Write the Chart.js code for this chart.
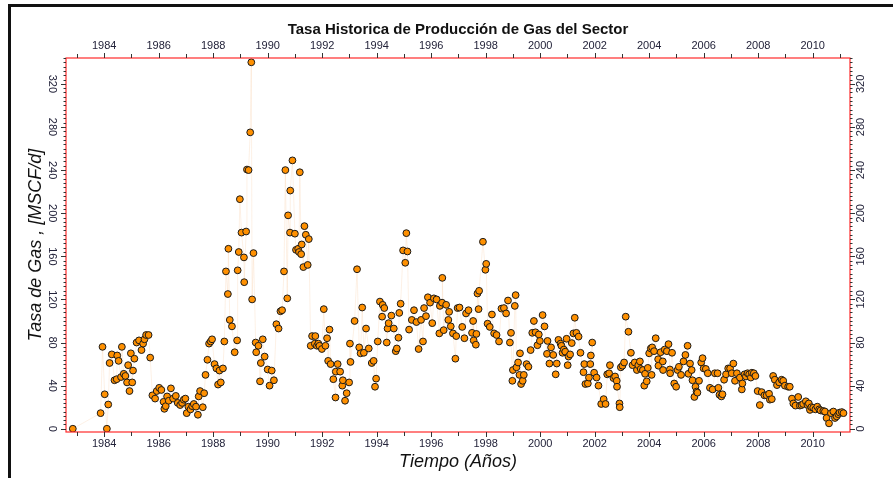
<!DOCTYPE html>
<html>
<head>
<meta charset="utf-8">
<script src="https://cdn.jsdelivr.net/npm/chart.js@4.4.1/dist/chart.umd.min.js"></script>
<style>
  html, body { margin: 0; padding: 0; background: #fff; }
  #wrap { width: 893px; height: 478px; position: relative; }
</style>
</head>
<body>
<div id="wrap"><canvas id="gasChart" width="893" height="478"></canvas></div>
<script>
// time (decimal years) and gas rate
const years = [
  1982.85, 1983.87, 1983.94, 1984.02, 1984.10, 1984.15, 1984.20, 1984.28, 1984.38, 1984.46,
  1984.48, 1984.53, 1984.62, 1984.65, 1984.72, 1984.78, 1984.84, 1984.88, 1984.93, 1984.98,
  1985.03, 1985.06, 1985.11, 1985.19, 1985.28, 1985.37, 1985.43, 1985.48, 1985.54, 1985.63,
  1985.69, 1985.77, 1985.87, 1985.93, 1986.02, 1986.10, 1986.18, 1986.21, 1986.26, 1986.31,
  1986.37, 1986.45, 1986.53, 1986.63, 1986.70, 1986.79, 1986.86, 1986.92, 1986.98, 1987.03,
  1987.09, 1987.17, 1987.23, 1987.29, 1987.37, 1987.44, 1987.47, 1987.52, 1987.62, 1987.67,
  1987.72, 1987.79, 1987.85, 1987.91, 1987.96, 1988.05, 1988.12, 1988.18, 1988.23, 1988.28,
  1988.36, 1988.41, 1988.47, 1988.54, 1988.56, 1988.61, 1988.69, 1988.79, 1988.88, 1988.90,
  1988.94, 1988.98, 1989.04, 1989.13, 1989.14, 1989.21, 1989.24, 1989.30, 1989.36, 1989.40,
  1989.43, 1989.48, 1989.56, 1989.58, 1989.66, 1989.72, 1989.75, 1989.82, 1989.89, 1990.00,
  1990.07, 1990.15, 1990.23, 1990.32, 1990.40, 1990.47, 1990.53, 1990.60, 1990.65, 1990.72,
  1990.75, 1990.82, 1990.83, 1990.91, 1991.00, 1991.04, 1991.12, 1991.15, 1991.18, 1991.23,
  1991.25, 1991.31, 1991.35, 1991.40, 1991.47, 1991.51, 1991.58, 1991.63, 1991.73, 1991.75,
  1991.81, 1991.86, 1991.90, 1991.99, 1992.06, 1992.12, 1992.18, 1992.22, 1992.27, 1992.31,
  1992.41, 1992.49, 1992.50, 1992.57, 1992.66, 1992.74, 1992.76, 1992.84, 1992.90, 1992.99,
  1993.02, 1993.04, 1993.19, 1993.28, 1993.36, 1993.41, 1993.47, 1993.53, 1993.61, 1993.71,
  1993.82, 1993.89, 1993.94, 1993.98, 1994.04, 1994.12, 1994.20, 1994.22, 1994.28, 1994.37,
  1994.40, 1994.44, 1994.54, 1994.63, 1994.70, 1994.74, 1994.80, 1994.83, 1994.88, 1994.97,
  1995.05, 1995.09, 1995.13, 1995.19, 1995.29, 1995.37, 1995.46, 1995.54, 1995.63, 1995.70,
  1995.74, 1995.81, 1995.88, 1995.96, 1996.04, 1996.10, 1996.20, 1996.30, 1996.32, 1996.40,
  1996.41, 1996.46, 1996.55, 1996.63, 1996.66, 1996.72, 1996.80, 1996.89, 1996.92, 1996.97,
  1997.04, 1997.14, 1997.22, 1997.28, 1997.37, 1997.50, 1997.54, 1997.56, 1997.64, 1997.66,
  1997.70, 1997.74, 1997.76, 1997.90, 1997.99, 1998.02, 1998.07, 1998.15, 1998.23, 1998.31,
  1998.40, 1998.49, 1998.58, 1998.67, 1998.75, 1998.82, 1998.89, 1998.93, 1998.98, 1999.00,
  1999.07, 1999.10, 1999.13, 1999.19, 1999.24, 1999.26, 1999.30, 1999.36, 1999.40, 1999.50,
  1999.57, 1999.65, 1999.71, 1999.77, 1999.83, 1999.90, 1999.95, 1999.99, 2000.09, 2000.16,
  2000.25, 2000.27, 2000.34, 2000.40, 2000.48, 2000.57, 2000.61, 2000.67, 2000.75, 2000.78,
  2000.82, 2000.87, 2000.92, 2000.97, 2001.01, 2001.04, 2001.10, 2001.16, 2001.22, 2001.27,
  2001.33, 2001.41, 2001.48, 2001.59, 2001.62, 2001.66, 2001.75, 2001.79, 2001.84, 2001.86,
  2001.91, 2001.98, 2002.07, 2002.14, 2002.24, 2002.33, 2002.40, 2002.46, 2002.53, 2002.56,
  2002.69, 2002.75, 2002.81, 2002.82, 2002.91, 2002.92, 2002.96, 2003.02, 2003.08, 2003.14,
  2003.24, 2003.33, 2003.39, 2003.47, 2003.55, 2003.60, 2003.66, 2003.69, 2003.77, 2003.82,
  2003.85, 2003.91, 2003.95, 2004.00, 2004.06, 2004.09, 2004.11, 2004.18, 2004.24, 2004.33,
  2004.34, 2004.42, 2004.50, 2004.51, 2004.57, 2004.65, 2004.71, 2004.76, 2004.77, 2004.84,
  2004.92, 2004.99, 2005.04, 2005.09, 2005.17, 2005.26, 2005.33, 2005.41, 2005.44, 2005.50,
  2005.56, 2005.59, 2005.66, 2005.70, 2005.74, 2005.77, 2005.83, 2005.91, 2005.96, 2006.00,
  2006.08, 2006.15, 2006.23, 2006.33, 2006.41, 2006.51, 2006.54, 2006.58, 2006.65, 2006.69,
  2006.75, 2006.82, 2006.90, 2006.97, 2007.03, 2007.09, 2007.15, 2007.22, 2007.33, 2007.40,
  2007.42, 2007.50, 2007.55, 2007.61, 2007.67, 2007.73, 2007.77, 2007.84, 2007.90, 2007.98,
  2008.06, 2008.13, 2008.23, 2008.31, 2008.40, 2008.43, 2008.50, 2008.55, 2008.61, 2008.69,
  2008.77, 2008.86, 2008.92, 2008.98, 2009.10, 2009.16, 2009.24, 2009.29, 2009.37, 2009.47,
  2009.53, 2009.59, 2009.65, 2009.75, 2009.81, 2009.86, 2009.90, 2009.95, 2010.02, 2010.10,
  2010.17, 2010.24, 2010.29, 2010.39, 2010.45, 2010.51, 2010.60, 2010.67, 2010.76, 2010.82,
  2010.88, 2010.94, 2010.99, 2011.07, 2011.13
];
const gasRate = [
  0, 14.5, 76, 32, 0, 22.5, 61, 69, 45, 46,
  68, 63, 48, 76, 51, 49, 43, 59, 35, 70,
  43, 54, 65, 80, 82, 73, 79, 83, 87, 87,
  66, 31, 28, 35, 38, 36, 25, 18.5, 21, 30,
  26, 37.5, 28, 30.5, 24, 22, 24, 27, 28, 14.5,
  20.5, 18, 21, 23, 20.5, 13, 30, 35, 20, 33,
  50, 64, 79, 81, 83, 60, 56, 41, 54, 43,
  56, 81, 146, 125, 167, 101, 95, 71, 82, 147,
  164, 213, 182, 159, 136, 183, 240.5, 240, 275, 340,
  120, 163, 80, 71, 77, 44, 61, 83, 67, 55,
  40, 54, 45, 97, 93, 109, 110, 146, 240, 121,
  198, 182, 221, 249, 181, 166, 167, 164, 238, 162,
  171, 150, 188, 180, 152, 176, 77, 86, 79, 86,
  77, 79, 77, 74, 111, 77, 84, 63, 92, 60,
  46, 29, 53, 60, 53, 40, 45, 26, 33, 43,
  79, 62, 100, 148, 75.5, 70, 112.5, 70.5, 93, 74.5,
  61, 63, 39, 46.5, 81, 118, 104, 115, 112, 80,
  93, 98, 105, 93, 72, 74.5, 84.5, 107.5, 116, 165.5,
  154, 181.5, 164.5, 92, 101, 110, 99, 74, 101, 81,
  112, 104.5, 122, 117, 98, 121, 120, 88.5, 114, 117,
  140, 91.5, 115, 101, 108.5, 95, 88.5, 65, 86, 112,
  112.5, 94.5, 84, 107, 110, 89, 100, 82, 78, 88,
  125.5, 111, 128, 173.5, 147.5, 153, 97.5, 94.5, 106, 88.5,
  87, 81, 111.5, 112, 107, 119, 80, 89, 44.5, 54.5,
  114, 124, 57, 61.5, 50, 70, 41.5, 44.5, 50, 60,
  57.5, 73, 89, 100, 89.5, 77.5, 87.5, 81.5, 105.5, 95,
  69.5, 81.5, 60.5, 75.5, 68.5, 50.5, 60.5, 82.5, 79, 77,
  70.5, 73.5, 71.5, 83.5, 59, 67, 69, 79.5, 88.5, 103,
  89, 85.5, 70.5, 52.5, 60, 41.5, 42, 47.5, 60, 68,
  80, 52, 47.5, 40, 23, 27.5, 23, 50.5, 51.5, 59,
  47, 48.5, 44.5, 39, 23.5, 20, 57, 58.5, 61.5, 104,
  90, 70.5, 59, 61.5, 54.5, 59, 62.5, 55.5, 54.5, 40,
  51, 44, 56.5, 70, 74.5, 50, 75.5, 72, 84, 64.5,
  58.5, 71, 62.5, 54.5, 73.5, 72, 78.5, 55, 51.5, 70.5,
  42, 39, 54.5, 57.5, 50, 62.5, 68.5, 77, 51, 60.5,
  54.5, 45, 29.5, 39, 34.5, 33.5, 44.5, 61.5, 65.5, 56,
  55.5, 51.5, 38, 36.5, 51.5, 51.5, 38, 31.5, 30, 32,
  45.5, 50.5, 56, 56, 51.5, 60.5, 44.5, 51.5, 47.5, 36.5,
  42, 50.5, 48.5, 51.5, 50.5, 47.5, 52, 51.5, 49, 35,
  22, 34, 31, 31, 32.5, 27, 27.5, 49, 45.5, 40.5,
  43, 45.5, 44.5, 40, 39, 39, 28, 23.5, 21.5, 29.5,
  21.5, 22, 23, 25.5, 22, 23.5, 17.5, 20, 19.5, 18,
  20.5, 18, 17, 16.5, 16, 10, 5, 14.5, 16, 10,
  11.5, 13.5, 15, 15.5, 14.5
];

const yearTicks = [1984, 1986, 1988, 1990, 1992, 1994, 1996, 1998, 2000, 2002, 2004, 2006, 2008, 2010];
const rateTicks = [0, 40, 80, 120, 160, 200, 240, 280, 320];

const points = years.map((t, i) => ({ x: t, y: gasRate[i] }));

const tickFont = { family: "'Liberation Sans', Arial, sans-serif", size: 11 };
const tickColor = '#23233a';

// red box round the plot + the black frame lines of the original figure
const framePlugin = {
  id: 'frame',
  afterDraw(chart) {
    const ctx = chart.ctx;
    const a = chart.chartArea;
    ctx.save();
    ctx.strokeStyle = '#ff2a2a';
    ctx.lineWidth = 1.2;
    ctx.strokeRect(a.left, a.top, a.right - a.left, a.bottom - a.top);

    ctx.strokeStyle = '#111';
    ctx.lineWidth = 3;
    ctx.beginPath();
    ctx.moveTo(8, 5.5); ctx.lineTo(893, 5.5);
    ctx.moveTo(9.5, 4); ctx.lineTo(9.5, 478);
    ctx.stroke();
    ctx.restore();
  }
};

// major / minor tick marks on all four sides
const tickMarkPlugin = {
  id: 'tickMarks',
  afterDraw(chart) {
    const ctx = chart.ctx;
    const a = chart.chartArea;
    const sx = chart.scales.x, sy = chart.scales.y;
    ctx.save();
    ctx.strokeStyle = '#333';
    ctx.lineWidth = 1;
    ctx.beginPath();
    for (let yr = Math.ceil(sx.min); yr <= sx.max; yr++) {
      const px = Math.round(sx.getPixelForValue(yr)) + 0.5;
      const len = yr % 2 === 0 ? 5 : 4;
      ctx.moveTo(px, a.bottom); ctx.lineTo(px, a.bottom + len);
      ctx.moveTo(px, a.top); ctx.lineTo(px, a.top - len);
    }
    for (let v = 0; v <= sy.max; v += 4) {
      const py = Math.round(sy.getPixelForValue(v)) + 0.5;
      const len = v % 40 === 0 ? 5 : 2.5;
      ctx.moveTo(a.left, py); ctx.lineTo(a.left - len, py);
      ctx.moveTo(a.right, py); ctx.lineTo(a.right + len, py);
    }
    ctx.stroke();
    ctx.restore();
  }
};

function xAxis(position, height, title) {
  return {
    type: 'linear',
    axis: 'x',
    position: position,
    min: 1982.6,
    max: 2011.37,
    grid: { display: false, drawTicks: false },
    border: { display: false },
    afterBuildTicks: s => { s.ticks = yearTicks.map(v => ({ value: v })); },
    afterFit: s => { s.height = height; },
    ticks: { font: tickFont, color: tickColor, padding: 5, maxRotation: 0, callback: v => String(v) },
    title: title
  };
}

function yAxis(position, width, rotation, padding, title) {
  return {
    type: 'linear',
    axis: 'y',
    position: position,
    min: -3,
    max: 344,
    grid: { display: false, drawTicks: false },
    border: { display: false },
    afterBuildTicks: s => { s.ticks = rateTicks.map(v => ({ value: v })); },
    afterFit: s => { s.width = width; },
    ticks: {
      font: tickFont, color: tickColor, padding: padding,
      minRotation: rotation, maxRotation: rotation, crossAlign: 'center',
      callback: v => String(v)
    },
    title: title
  };
}

new Chart(document.getElementById('gasChart'), {
  type: 'scatter',
  data: {
    datasets: [{
      data: points,
      xAxisID: 'x',
      yAxisID: 'y',
      showLine: true,
      borderColor: 'rgba(245, 190, 140, 0.22)',
      borderWidth: 1,
      pointRadius: 3.4,
      pointBackgroundColor: '#ff9000',
      pointBorderColor: '#1a1a1a',
      pointBorderWidth: 1
    }]
  },
  options: {
    responsive: false,
    animation: false,
    layout: { padding: 0 },
    plugins: { legend: { display: false }, tooltip: { enabled: false } },
    scales: {
      x: xAxis('bottom', 46, {
        display: true, text: 'Tiempo (Años)', color: '#111',
        font: { family: "'Liberation Sans', Arial, sans-serif", size: 18, style: 'italic' },
        padding: { top: 0, bottom: 5 }
      }),
      x2: xAxis('top', 58, {
        display: true, text: 'Tasa Historica de Producción de Gas del Sector', color: '#111',
        font: { family: "'Liberation Sans', Arial, sans-serif", size: 15, weight: 'bold' },
        padding: { top: 21, bottom: 0 }
      }),
      y: yAxis('left', 66, -90, 5, {
        display: true, text: 'Tasa de Gas , [MSCF/d]', color: '#111',
        font: { family: "'Liberation Sans', Arial, sans-serif", size: 18, style: 'italic' },
        padding: { top: 25, bottom: 0 }
      }),
      y2: yAxis('right', 43, 90, 2, { display: false })
    }
  },
  plugins: [framePlugin, tickMarkPlugin]
});
</script>
</body>
</html>
